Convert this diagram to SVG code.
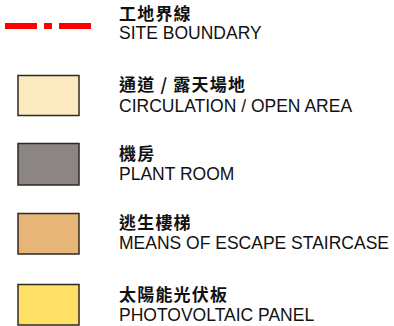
<svg xmlns="http://www.w3.org/2000/svg" width="394" height="326" viewBox="0 0 394 326">
<style>
.zh{font-family:"Noto Sans CJK TC","Noto Sans CJK SC",sans-serif;font-size:17px;font-weight:bold;fill:#111;letter-spacing:1.2px}
.en{font-family:"Liberation Sans",Arial,sans-serif;font-size:17.5px;fill:#111}
.sw{stroke:#2e2a22;stroke-width:1.5}
</style>
<rect width="394" height="326" fill="#fff"/>
<g id="site-boundary">
<line x1="5" y1="26" x2="92" y2="26" stroke="#ff0000" stroke-width="6" stroke-dasharray="32 7 8 7"/>
<text class="zh" x="119" y="20.2">工地界線</text>
<text class="en" x="119" y="39.3">SITE BOUNDARY</text>
</g>
<g id="circulation">
<rect class="sw" x="18" y="75.5" width="61" height="40" fill="#fbe9bf"/>
<text class="zh" x="119" y="91.2">通道 / 露天場地</text>
<text class="en" x="119" y="111.7">CIRCULATION / OPEN AREA</text>
</g>
<g id="plant-room">
<rect class="sw" x="18" y="143.5" width="61" height="41.5" fill="#8c8585"/>
<text class="zh" x="119" y="159.8">機房</text>
<text class="en" x="119" y="180.3">PLANT ROOM</text>
</g>
<g id="staircase">
<rect class="sw" x="18" y="213.5" width="61" height="40.5" fill="#e8b579"/>
<text class="zh" x="119" y="228.5">逃生樓梯</text>
<text class="en" x="119" y="248.7">MEANS OF ESCAPE STAIRCASE</text>
</g>
<g id="pv-panel">
<rect class="sw" x="18" y="284.5" width="61" height="40.5" fill="#ffe066"/>
<text class="zh" x="119" y="300.8">太陽能光伏板</text>
<text class="en" x="119" y="320.7">PHOTOVOLTAIC PANEL</text>
</g>
</svg>
